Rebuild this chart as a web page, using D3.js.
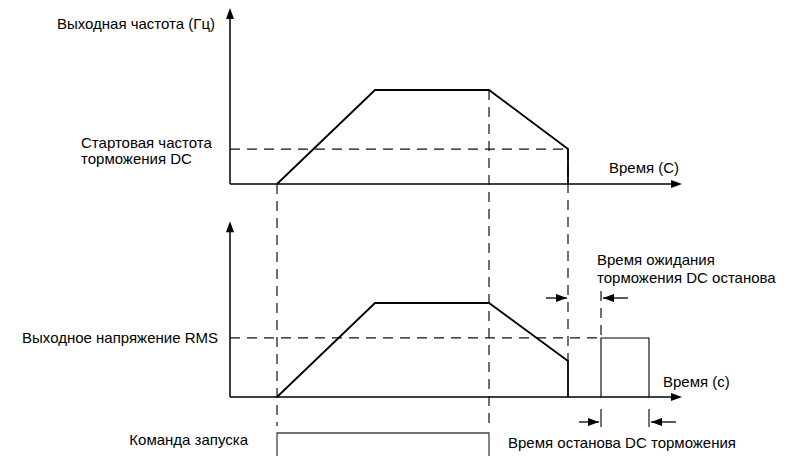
<!DOCTYPE html>
<html>
<head>
<meta charset="utf-8">
<script src="https://cdn.jsdelivr.net/npm/d3@7"></script>
<style>
  body { margin: 0; background: #fff; }
  text { font-family: "Liberation Sans", Arial, sans-serif; font-size: 15px; fill: #000; }
</style>
</head>
<body>
<svg id="chart" width="787" height="456"></svg>
<script>
// time points (arbitrary units)
var tAxisEnd = 45.2;
var freqT = [4.7, 14.5, 25.9, 33.8, 33.8];
var freqV = [0, 50, 50, 18.6, 0];        // Hz
var dcStartFreq = 18.6;
var voltT = [4.7, 14.5, 25.9, 33.8, 33.8];
var voltV = [0, 100, 100, 38.3, 0];       // % of rated
var rmsLevel = 62.8;
var dcT = [37.1, 37.1, 41.9, 41.9];
var dcV = [0, 62.8, 62.8, 0];
var runT = [4.7, 4.7, 25.9, 25.9];
var runV = [0, 1, 1, 0];

var svg = d3.select("#chart");

var x = d3.scaleLinear().domain([0, tAxisEnd]).range([230, 682]);
var yF = d3.scaleLinear().domain([0, 50]).range([184, 90]);
var yV = d3.scaleLinear().domain([0, 100]).range([397, 303]);
var yR = d3.scaleLinear().domain([0, 1]).range([462, 433]);

function arrowHead(g, tipX, tipY, dir) {
  // dir: "up", "right", "left"
  var L = 11, W = 4, p;
  if (dir == "up") p = [[tipX, tipY], [tipX - W, tipY + L], [tipX + W, tipY + L]];
  if (dir == "right") p = [[tipX, tipY], [tipX - L, tipY - W], [tipX - L, tipY + W]];
  if (dir == "left") p = [[tipX, tipY], [tipX + L, tipY - W], [tipX + L, tipY + W]];
  g.append("path").attr("d", "M" + p.join("L") + "Z").attr("fill", "#000");
}

function axes(yScale, topVal) {
  var g = svg.append("g");
  var x0 = x(0), y0 = yScale(0), yTop = yScale(topVal);
  g.append("line").attr("x1", x0).attr("y1", y0).attr("x2", x0).attr("y2", yTop + 8)
    .attr("stroke", "#000").attr("stroke-width", 1.5);
  g.append("line").attr("x1", x0).attr("y1", y0).attr("x2", x(tAxisEnd) - 8).attr("y2", y0)
    .attr("stroke", "#000").attr("stroke-width", 1.5);
  arrowHead(g, x0, yTop, "up");
  arrowHead(g, x(tAxisEnd), y0, "right");
}

axes(yF, 93.6);
axes(yV, 187);

var dash = "10,7";
function dline(x1, y1, x2, y2) {
  svg.append("line").attr("x1", x1).attr("y1", y1).attr("x2", x2).attr("y2", y2)
    .attr("stroke", "#111").attr("stroke-width", 1.2).attr("stroke-dasharray", dash);
}

// reference dashed lines
dline(x(0), yF(dcStartFreq), x(freqT[3]), yF(dcStartFreq));
dline(x(0), yV(rmsLevel), x(dcT[0]), yV(rmsLevel));
dline(x(freqT[0]), yF(0), x(freqT[0]), 426);
dline(x(freqT[2]), yF(50), x(freqT[2]), 426);
dline(x(freqT[3]), yF(dcStartFreq), x(freqT[3]), yV(voltV[3]));
dline(x(dcT[0]), 291, x(dcT[0]), yV(rmsLevel));

// profiles
var lineF = d3.line().x(function(d, i) { return x(freqT[i]); }).y(function(d) { return yF(d); });
var lineV = d3.line().x(function(d, i) { return x(voltT[i]); }).y(function(d) { return yV(d); });
var lineDC = d3.line().x(function(d, i) { return x(dcT[i]); }).y(function(d) { return yV(d); });
var lineR = d3.line().x(function(d, i) { return x(runT[i]); }).y(function(d) { return yR(d); });

svg.append("path").attr("d", lineF(freqV)).attr("fill", "none").attr("stroke", "#000").attr("stroke-width", 1.8);
svg.append("path").attr("d", lineV(voltV)).attr("fill", "none").attr("stroke", "#000").attr("stroke-width", 1.8);
svg.append("path").attr("d", lineDC(dcV)).attr("fill", "none").attr("stroke", "#000").attr("stroke-width", 1.1);
svg.append("path").attr("d", lineR(runV)).attr("fill", "none").attr("stroke", "#444").attr("stroke-width", 1.3);

// DC brake time ticks below axis
[dcT[0], dcT[2]].forEach(function(t) {
  svg.append("line").attr("x1", x(t)).attr("y1", 409).attr("x2", x(t)).attr("y2", 427)
    .attr("stroke", "#000").attr("stroke-width", 1.1);
});

// dimension arrows
function dimArrow(x1, x2, y, dir) {
  var g = svg.append("g");
  g.append("line").attr("x1", x1).attr("y1", y).attr("x2", x2).attr("y2", y)
    .attr("stroke", "#000").attr("stroke-width", 1.3);
  arrowHead(g, x2, y, dir);
}
dimArrow(x(freqT[3]) - 22, x(freqT[3]) - 1, 298, "right");
dimArrow(x(dcT[0]) + 27, x(dcT[0]) + 2, 298, "left");
dimArrow(x(dcT[0]) - 22, x(dcT[0]) - 2, 422, "right");
dimArrow(x(dcT[2]) + 27, x(dcT[2]) + 2, 422, "left");

// labels
function label(txt, tx, ty, anchor) {
  svg.append("text").attr("x", tx).attr("y", ty).attr("text-anchor", anchor || "start").text(txt);
}
label("Выходная частота (Гц)", 215, 29, "end");
label("Стартовая частота", 81, 148);
label("торможения DC", 81, 164);
label("Время (С)", 609, 173);
label("Время ожидания", 597, 265);
label("торможения DC останова", 597, 283);
label("Выходное напряжение RMS", 218, 343, "end");
label("Время (с)", 663, 387);
label("Команда запуска", 248, 445, "end");
label("Время останова DC торможения", 508, 448);
</script>
</body>
</html>
